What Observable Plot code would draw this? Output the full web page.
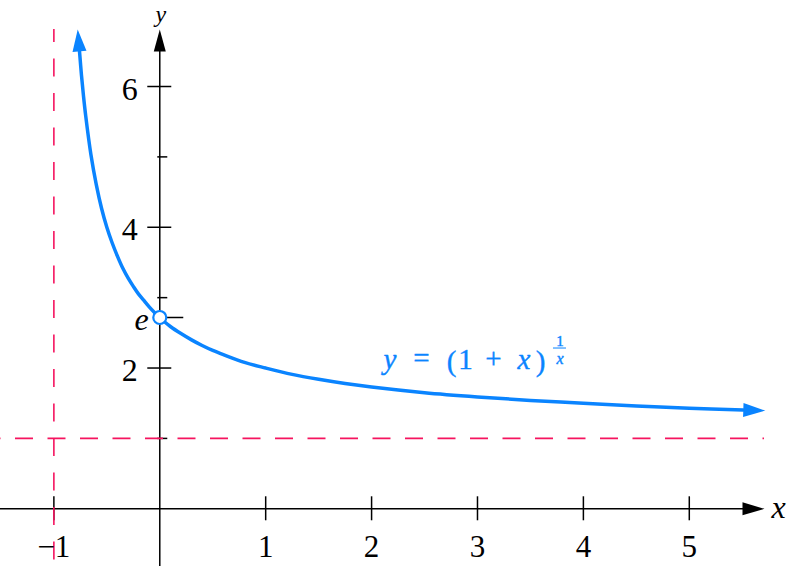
<!DOCTYPE html>
<html>
<head>
<meta charset="utf-8">
<script src="https://cdn.jsdelivr.net/npm/d3@7"></script>
<script src="https://cdn.jsdelivr.net/npm/@observablehq/plot@0.6"></script>
<style>
  html, body { margin: 0; padding: 0; background: #fff; }
  #chart svg { display: block; background: #fff; }
</style>
</head>
<body>
<div id="chart"></div>
<script>
// ---- data ----
const curveX = [-0.758, -0.74, -0.72, -0.70, -0.65, -0.60, -0.55, -0.50, -0.45, -0.40, -0.35, -0.30, -0.25, -0.20, -0.15, -0.10, -0.05, 0.0, 0.05, 0.10, 0.20, 0.30, 0.40, 0.50, 0.60, 0.80, 1.00, 1.25, 1.50, 1.75, 2.00, 2.50, 3.00, 3.50, 4.00, 4.50, 5.00, 5.51];
const curveY = [6.50, 6.17, 5.86, 5.59, 5.03, 4.61, 4.27, 4.00, 3.78, 3.59, 3.42, 3.28, 3.16, 3.05, 2.96, 2.87, 2.79, 2.718, 2.65, 2.59, 2.49, 2.40, 2.32, 2.25, 2.19, 2.08, 2.00, 1.91, 1.84, 1.78, 1.73, 1.65, 1.59, 1.54, 1.50, 1.46, 1.43, 1.405];
const xTicks = [-1, 1, 2, 3, 4, 5];
const xTickLabels = ["\u22121", "1", "2", "3", "4", "5"];
const yMajorTicks = [2, 4, 6];
const yMajorLabels = ["2", "4", "6"];
const yMinorTicks = [1, 3, 5];
const eValue = 2.718;
const asymptoteX = [-1];
const asymptoteY = [1];
const xAxisEnd = 5.71;
const yAxisEnd = 6.81;
const formulaAnchor = [{x: 2.103, y: 1.993}];

// ---- layout / styles ----
const W = 793, H = 566;
const xDomain = [-1.504, 5.984];
const yDomain = [-0.820, 7.222];
const kx = W / (xDomain[1] - xDomain[0]);
const ky = H / (yDomain[1] - yDomain[0]);
const dxData = p => p / kx;
const dyData = p => p / ky;
const BLUE = "#0a84ff";
const PINK = "#f5145f";
const FONT = "'Liberation Serif', 'DejaVu Serif', serif";

function pxAngle(x1, y1, x2, y2) {
  const dxp = (x2 - x1) * kx, dyp = -(y2 - y1) * ky;
  return Math.atan2(dxp, -dyp) * 180 / Math.PI;
}
const n = curveX.length;
const leftRot = pxAngle(curveX[1], curveY[1], curveX[0], curveY[0]);
const rightRot = pxAngle(curveX[n - 2], curveY[n - 2], curveX[n - 1], curveY[n - 1]);
const curve = curveX.map((x, i) => ({x, y: curveY[i]}));

const formulaPieces = [
  {t: "y", dx: 7.5, dy: 0, it: true, fs: 29},
  {t: "=", dx: 39, dy: -1, it: false, fs: 29},
  {t: "(", dx: 69, dy: 2, it: false, fs: 29},
  {t: "1", dx: 83, dy: 0, it: false, fs: 29},
  {t: "+", dx: 111, dy: -1, it: false, fs: 29},
  {t: "x", dx: 141.5, dy: 0, it: true, fs: 29},
  {t: ")", dx: 158, dy: 2, it: false, fs: 29},
  {t: "1", dx: 177.5, dy: -22.5, it: false, fs: 15},
  {t: "x", dx: 177.5, dy: -4.5, it: true, fs: 16}
];

const txt = (data, opts) => Plot.text(data, {fontFamily: FONT, lineAnchor: "bottom", ...opts});

const marks = [
  // axes
  Plot.ruleY([0], {x1: xDomain[0], x2: xAxisEnd - dxData(18), stroke: "black", strokeWidth: 1.5}),
  Plot.ruleX([0], {y1: yDomain[0], y2: yAxisEnd - dyData(18), stroke: "black", strokeWidth: 1.5}),
  Plot.vector([{x: xAxisEnd, y: 0}], {x: "x", y: "y", rotate: 90, length: 22, r: 6.5, shape: "spike", anchor: "end", fill: "black", stroke: "none"}),
  Plot.vector([{x: 0, y: yAxisEnd}], {x: "x", y: "y", rotate: 0, length: 22, r: 6, shape: "spike", anchor: "end", fill: "black", stroke: "none"}),
  // ticks
  Plot.ruleX(xTicks, {x: d => d, y1: -dyData(12), y2: dyData(12), stroke: "black", strokeWidth: 1.5}),
  Plot.ruleY(yMajorTicks, {y: d => d, x1: -dxData(12), x2: dxData(12), stroke: "black", strokeWidth: 1.5}),
  Plot.ruleY(yMinorTicks, {y: d => d, x1: -dxData(2), x2: dxData(8), stroke: "black", strokeWidth: 1.5}),
  Plot.ruleY([eValue], {y: d => d, x1: 0, x2: dxData(24), stroke: "black", strokeWidth: 1.5}),
  // asymptotes
  Plot.ruleY(asymptoteY, {y: d => d, x1: xDomain[0], x2: xAxisEnd, stroke: PINK, strokeWidth: 1.6, strokeDasharray: "18,14.5", strokeDashoffset: 17.5}),
  Plot.ruleX(asymptoteX, {x: d => d, y1: yAxisEnd, y2: yDomain[0], stroke: PINK, strokeWidth: 1.6, strokeDasharray: "18,16.5", strokeDashoffset: 5}),
  // curve
  Plot.line(curve, {x: "x", y: "y", stroke: BLUE, strokeWidth: 3.5, curve: "catmull-rom"}),
  Plot.vector([curve[0]], {x: "x", y: "y", rotate: leftRot, length: 22, r: 7, shape: "spike", anchor: "start", fill: BLUE, stroke: "none"}),
  Plot.vector([curve[n - 1]], {x: "x", y: "y", rotate: rightRot, length: 22, r: 7, shape: "spike", anchor: "start", fill: BLUE, stroke: "none"}),
  Plot.dot([{x: 0, y: eValue}], {x: "x", y: "y", r: 6.5, fill: "white", stroke: BLUE, strokeWidth: 2.2}),
  // tick labels
  txt(xTicks, {x: d => d, y: 0, text: (d, i) => xTickLabels[i], dy: 48, fontSize: 31, textAnchor: "middle"}),
  txt(yMajorTicks, {x: 0, y: d => d, text: (d, i) => yMajorLabels[i], dx: -22, dy: 13, fontSize: 32, textAnchor: "end"}),
  txt([eValue], {x: 0, y: d => d, text: () => "e", dx: -11, dy: 13, fontSize: 32, fontStyle: "italic", textAnchor: "end"}),
  // axis names
  txt([{x: xAxisEnd, y: 0}], {x: "x", y: "y", text: () => "x", dx: 7, dy: 9, fontSize: 32, fontStyle: "italic", textAnchor: "start"}),
  txt([{x: 0, y: yAxisEnd}], {x: "x", y: "y", text: () => "y", dx: 1, dy: -7, fontSize: 24, fontStyle: "italic", textAnchor: "middle"}),
  // formula
  ...formulaPieces.map(p => txt(formulaAnchor, {x: "x", y: "y", text: () => p.t, dx: p.dx, dy: p.dy, fontSize: p.fs, fontStyle: p.it ? "italic" : "normal", textAnchor: "middle", fill: BLUE, stroke: BLUE, strokeWidth: 0.4})),
  Plot.ruleY(formulaAnchor, {y: "y", x1: d => d.x + dxData(171), x2: d => d.x + dxData(184), dy: -20.5, stroke: BLUE, strokeWidth: 1})
];

const chart = Plot.plot({
  width: W,
  height: H,
  margin: 0,
  x: {domain: xDomain, axis: null},
  y: {domain: yDomain, axis: null},
  style: {background: "white", overflow: "visible"},
  marks
});
document.getElementById("chart").appendChild(chart);
</script>
</body>
</html>
